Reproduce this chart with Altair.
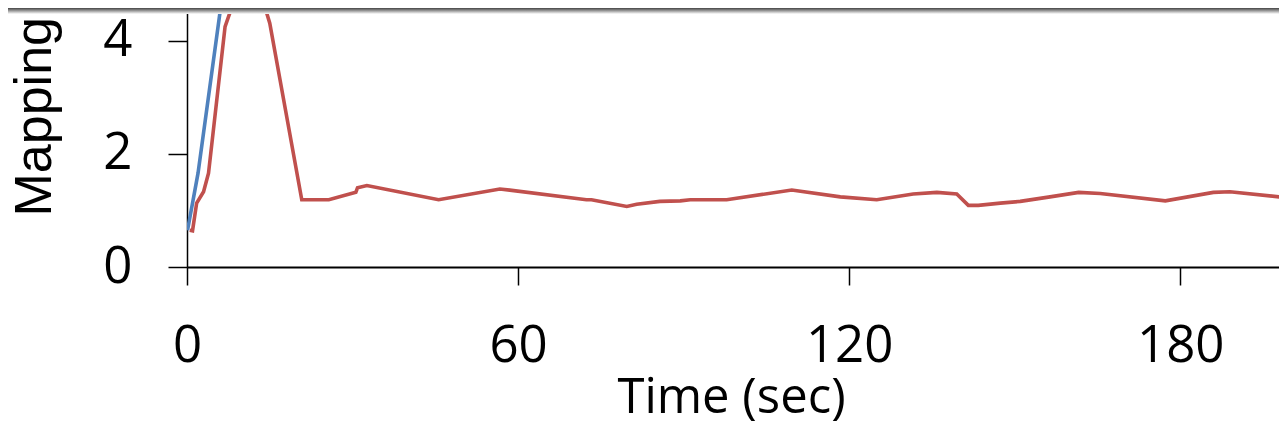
import altair as alt
import pandas as pd

# Series (time in sec, mapping value)
blue_t = [0.1, 2.0, 6.3, 9.0]
blue_v = [0.65, 1.66, 4.73, 6.6]

red_t = [0.5, 1.0, 1.75, 3.0, 3.9, 6.9, 8.5, 11.0, 13.8, 15.0, 20.8, 25.7,
         30.6, 30.9, 32.6, 45.6, 56.7, 58.5, 72.4, 73.3, 79.7, 81.5, 85.7,
         89.4, 91.2, 97.8, 109.6, 118.4, 125.0, 131.6, 135.9, 139.5, 141.6,
         143.4, 147.4, 151.0, 156.4, 161.6, 165.5, 177.3, 186.0, 189.0, 199.0]
red_v = [0.65, 0.64, 1.13, 1.33, 1.66, 4.25, 4.70, 5.0, 4.70, 4.31, 1.19, 1.19,
         1.32, 1.40, 1.44, 1.19, 1.38, 1.36, 1.19, 1.19, 1.07, 1.11, 1.16,
         1.17, 1.19, 1.19, 1.36, 1.24, 1.19, 1.29, 1.32, 1.29, 1.09,
         1.09, 1.13, 1.16, 1.24, 1.32, 1.30, 1.17, 1.32, 1.33, 1.23]

x_ticks = [0, 60, 120, 180]
y_ticks = [0, 2, 4]
series_names = ["A", "B"]
series_colors = ["#4F81BD", "#C0504D"]

df = pd.concat([
    pd.DataFrame({"t": blue_t, "v": blue_v, "s": series_names[0], "o": 0}),
    pd.DataFrame({"t": red_t, "v": red_v, "s": series_names[1], "o": 1}),
])

W = 1092
H = 259

lines = alt.Chart(df).mark_line(strokeWidth=3.6, clip=True).encode(
    x=alt.X("t:Q",
            scale=alt.Scale(domain=[0, 197.9], nice=False, zero=False),
            axis=alt.Axis(values=x_ticks, title="Time (sec)", grid=False,
                          domainColor="black", domainWidth=1.8,
                          tickColor="black", tickWidth=1.5, tickSize=18,
                          labelFont="Open Sans", labelFontSize=51,
                          labelColor="black", labelBaseline="alphabetic",
                          labelPadding=76, labelFlush=False,
                          titleFont="Open Sans", titleFontSize=49,
                          titleFontWeight="normal", titleColor="black",
                          titleBaseline="alphabetic", titleX=544, titleY=145,
                          titleAlign="center")),
    y=alt.Y("v:Q",
            scale=alt.Scale(domain=[0, 4.58], nice=False),
            axis=alt.Axis(values=y_ticks, title="Mapping", grid=False,
                          domainColor="black", domainWidth=1.5,
                          tickColor="black", tickWidth=1.5, tickSize=19,
                          labelFont="Open Sans", labelFontSize=51,
                          labelColor="black", labelBaseline="middle",
                          labelPadding=36, labelFlush=False,
                          titleFont="Liberation Sans", titleFontSize=52,
                          titleFontWeight="normal", titleColor="black",
                          titleAngle=270, titleAlign="left",
                          titleBaseline="alphabetic", titleX=-137, titleY=208)),
    color=alt.Color("s:N", scale=alt.Scale(domain=series_names, range=series_colors),
                    legend=None),
    detail="s:N",
    order="o:Q",
)

band = alt.Chart(alt.Data(values=[{"k": 1}])).mark_rect(
    color=alt.Gradient(gradient="linear",
                       stops=[alt.GradientStop(color="#444444", offset=0),
                              alt.GradientStop(color="#ffffff", offset=1)],
                       x1=0, x2=0, y1=0, y2=1)
).encode(x=alt.value(-179), x2=alt.value(W), y=alt.value(0), y2=alt.value(6))

chart = alt.layer(lines, band).properties(
    width=W, height=H,
    padding={"left": 179, "top": 0, "right": 0, "bottom": 157},
    autosize=alt.AutoSizeParams(type="none"),
).configure_view(stroke=None).configure(background="white")

chart.save("out.html", embed_options={"renderer": "svg", "actions": False})
